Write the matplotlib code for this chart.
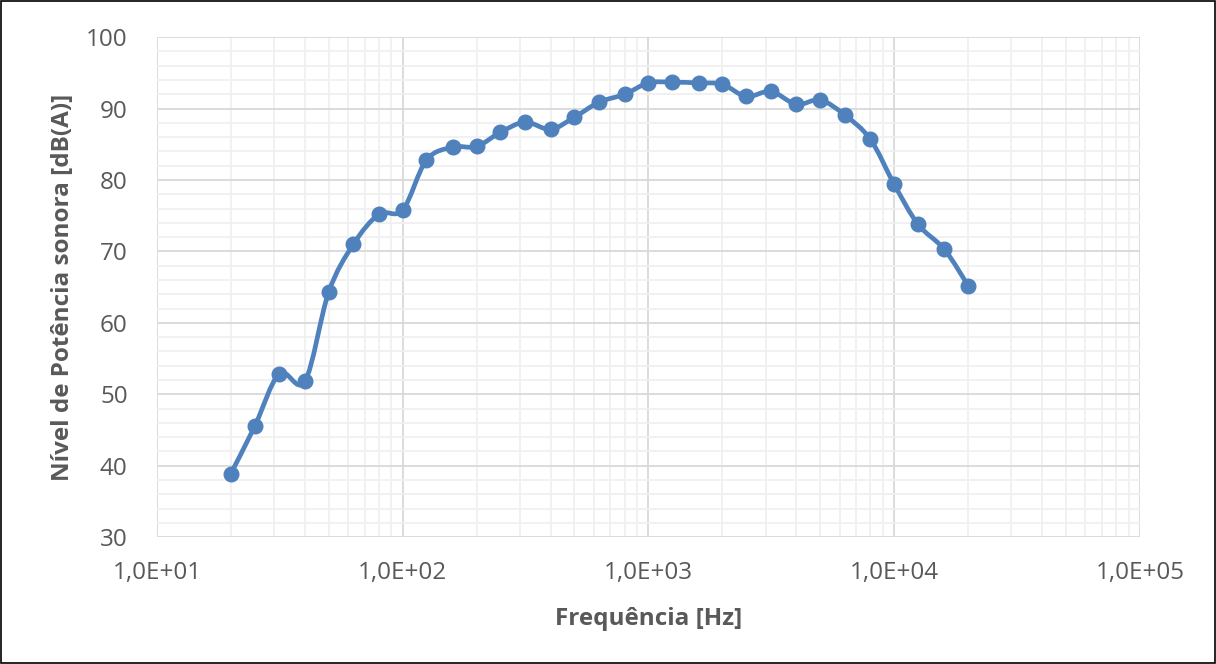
import numpy as np
import matplotlib.pyplot as plt
from matplotlib.path import Path
from matplotlib.patches import PathPatch

# 1/3 octave bands and measured sound power level
freq = [20, 25, 31.5, 40, 50, 63, 80, 100, 125, 160, 200, 250, 315, 400, 500,
        630, 800, 1000, 1250, 1600, 2000, 2500, 3150, 4000, 5000, 6300, 8000,
        10000, 12500, 16000, 20000]
level = [38.9, 45.5, 52.9, 51.8, 64.3, 71.0, 75.2, 75.8, 82.8, 84.6, 84.7,
         86.7, 88.1, 87.1, 88.8, 90.9, 92.0, 93.6, 93.7, 93.6, 93.4, 91.7,
         92.4, 90.6, 91.2, 89.1, 85.7, 79.4, 73.8, 70.3, 65.2]

x_ticks = [1e1, 1e2, 1e3, 1e4, 1e5]
x_tick_labels = ["1,0E+01", "1,0E+02", "1,0E+03", "1,0E+04", "1,0E+05"]
y_ticks = [30, 40, 50, 60, 70, 80, 90, 100]

plt.rcParams['font.family'] = ['Open Sans', 'DejaVu Sans']
txt = "#595959"
blue = "#4f81bd"

fig = plt.figure(figsize=(12.16, 6.64), dpi=100)
ax = fig.add_axes([0.129, 0.191, 0.8085, 0.753])

# smoothed line like Excel: cubic bezier through the points in (log x, y) space
lx = np.log10(freq)
ly = np.array(level)
n = len(lx)
verts = [(freq[0], level[0])]
codes = [Path.MOVETO]
for i in range(n - 1):
    i0 = max(i - 1, 0)
    i3 = min(i + 2, n - 1)
    c1 = (lx[i] + (lx[i + 1] - lx[i0]) / 6, ly[i] + (ly[i + 1] - ly[i0]) / 6)
    c2 = (lx[i + 1] - (lx[i3] - lx[i]) / 6, ly[i + 1] - (ly[i3] - ly[i]) / 6)
    verts += [(10 ** c1[0], c1[1]), (10 ** c2[0], c2[1]), (freq[i + 1], level[i + 1])]
    codes += [Path.CURVE4] * 3
ax.add_patch(PathPatch(Path(verts, codes), fill=False, edgecolor=blue,
                       lw=3.4, capstyle="round", joinstyle="round", zorder=3))
ax.plot(freq, level, linestyle="none", marker="o", ms=10.5, color=blue, zorder=4)

ax.set_xscale("log")
ax.set_xlim(1e1, 1e5)
ax.set_ylim(30, 100)
ax.set_xticks(x_ticks)
ax.set_xticklabels(x_tick_labels)
ax.set_yticks(y_ticks)
ax.set_yticks(np.arange(30, 100, 2), minor=True)
ax.tick_params(which="both", length=0)
ax.tick_params(axis="x", labelsize=17.5, colors=txt, pad=17)
ax.tick_params(axis="y", labelsize=17.5, colors=txt, pad=21)
ax.grid(True, which="major", color="#d9d9d9", lw=1.3)
ax.grid(True, which="minor", color="#f0f0f0", lw=1.3)
ax.set_axisbelow(True)
for s in ax.spines.values():
    s.set_visible(False)

ax.set_xlabel("Frequência [Hz]", fontsize=17.5, fontweight="bold", color=txt, labelpad=16)
ax.set_ylabel("Nível de Potência sonora [dB(A)]", fontsize=17.5, fontweight="bold",
              color=txt, labelpad=8)

# outer border
fig.patches.append(plt.Rectangle((0.001, 0.002), 0.998, 0.996, transform=fig.transFigure,
                                 fill=False, edgecolor="black", lw=1.2))

fig.savefig("out.png", dpi=100)
